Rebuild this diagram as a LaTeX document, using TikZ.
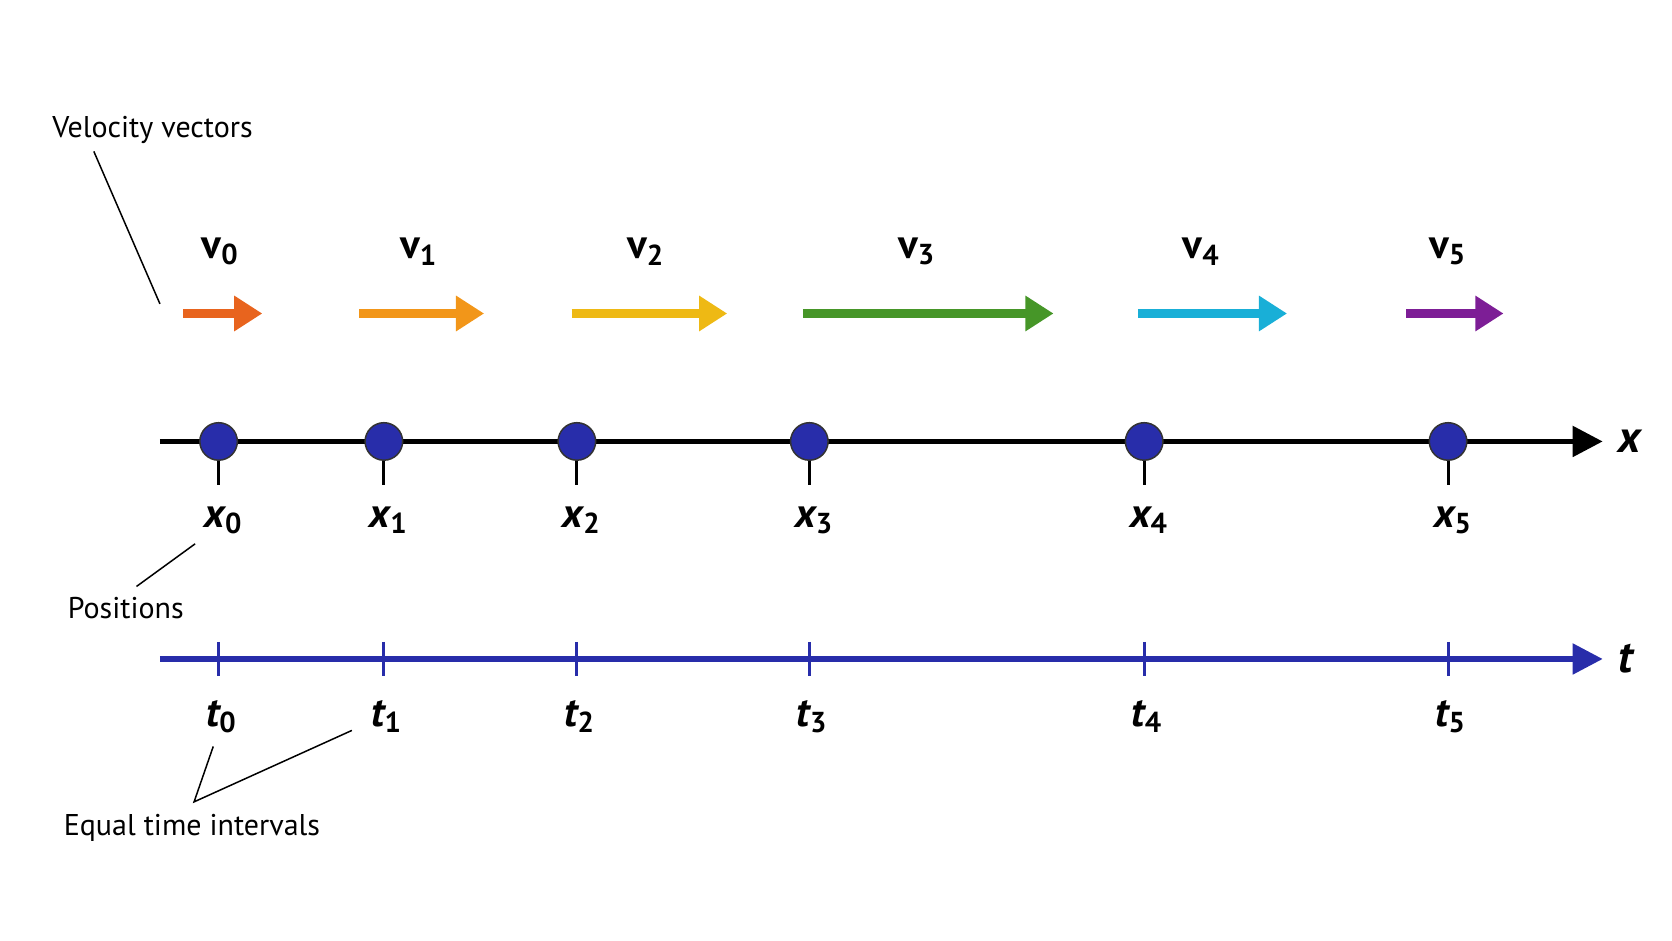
\documentclass[tikz,border=0pt]{standalone}
\usepackage{fontspec}
\setmainfont{PT Sans}
\usetikzlibrary{arrows.meta}
\definecolor{dotblue}{RGB}{40, 45, 170}
\definecolor{vorange}{RGB}{232, 100, 30}
\definecolor{vamber}{RGB}{242, 150, 25}
\definecolor{vyellow}{RGB}{238, 185, 20}
\definecolor{vgreen}{RGB}{70, 150, 40}
\definecolor{vcyan}{RGB}{25, 175, 215}
\definecolor{vpurple}{RGB}{125, 30, 150}
\tikzset{
  vec/.style={line width=2.2pt, -{Triangle[length=7.5pt,width=9pt]}},
  callout/.style={font=\fontsize{8}{10}\selectfont},
  pointer/.style={thin, black},
  sym/.style={font=\fontsize{11}{13}\selectfont\bfseries},
  dot/.style={circle, draw=black!80, fill=dotblue, minimum size=10pt, inner sep=0pt}
}
\begin{document}
\begin{tikzpicture}[x=0.01cm, y=-0.01cm]
\useasboundingbox (0,0) rectangle (1568,882);
% axes
\coordinate (xs) at (150,414);
\coordinate (xe) at (1503,414);
\coordinate (ts) at (150,618);
\coordinate (te) at (1503,618);
\draw[line width=1.4pt, -{Triangle[length=8pt,width=8pt]}] (xs) -- (xe);
\draw[dotblue, line width=1.4pt, -{Triangle[length=8pt,width=8pt]}] (ts) -- (te);
\node[sym, font=\fontsize{12}{14}\selectfont\bfseries\itshape, anchor=west] (xl) at (1505,414) {x};
\node[sym, font=\fontsize{12}{14}\selectfont\bfseries\itshape, anchor=west] (tl) at (1505,618) {t};
% positions, ticks and labels
\foreach \i/\px in {0/205,1/360,2/541,3/759,4/1073,5/1358} {
  \draw[thick] (\px,414) -- (\px,455);
  \draw[dotblue, thick] (\px,602) -- (\px,634);
  \node[dot] (p\i) at (\px,414) {};
  \node[sym] (x\i) at (\px+5,488) {\itshape x\textsubscript{\upshape\i}};
  \node[sym] (t\i) at (\px+3,672) {\itshape t\textsubscript{\upshape\i}};
}
% velocity vectors
\foreach \i/\a/\b/\c/\lx in {0/172/246/vorange/207, 1/337/454/vamber/393, 2/536/682/vyellow/606,
                            3/753/988/vgreen/860, 4/1067/1207/vcyan/1127, 5/1319/1410/vpurple/1358} {
  \coordinate (va\i) at (\a,294);
  \coordinate (vb\i) at (\b,294);
  \draw[vec, \c] (va\i) -- (vb\i);
  \node[sym] (v\i) at (\lx,236) {v\textsubscript{\i}};
}
% callouts
\node[callout] (vel) at (143,122) {Velocity vectors};
\node[callout] (pos) at (118,570) {Positions};
\node[callout] (eq) at (180,776) {Equal time intervals};
\coordinate (velend) at (150,285);
\coordinate (posend) at (183,510);
\coordinate (eqjoin) at (182,752);
\coordinate (eqa) at (200,700);
\coordinate (eqb) at (330,685);
\draw[pointer] (88,142) -- (velend);
\draw[pointer] (128,550) -- (posend);
\draw[pointer] (eqa) -- (eqjoin) -- (eqb);
\end{tikzpicture}
\end{document}
